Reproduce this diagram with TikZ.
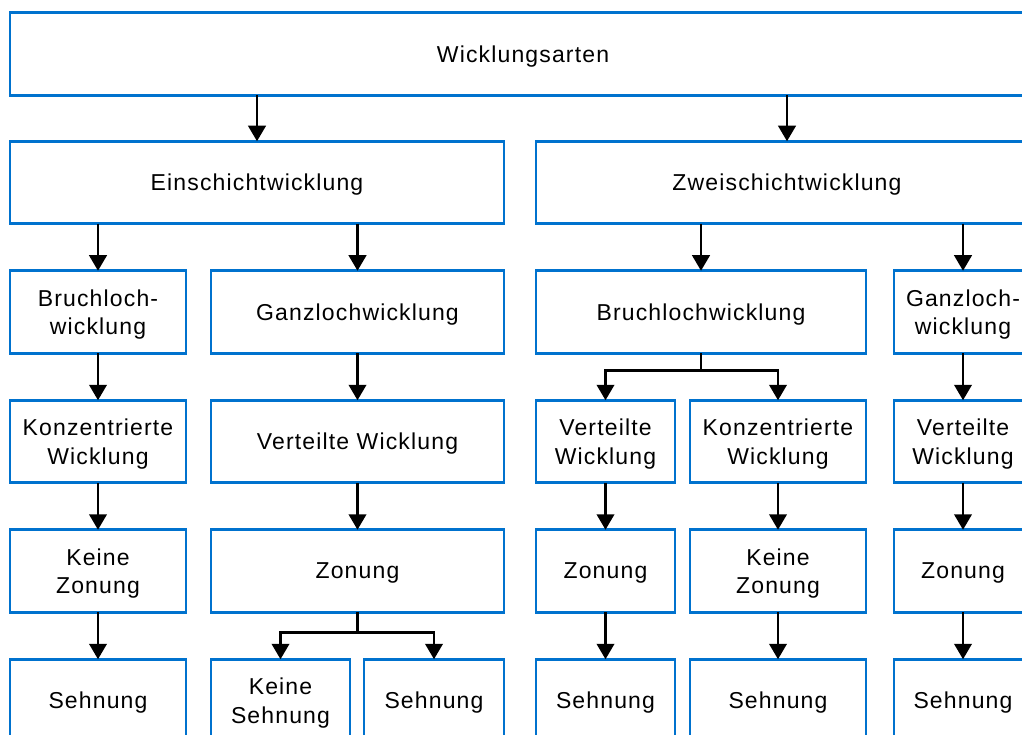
\documentclass[tikz,border=0pt]{standalone}
\usepackage{fontspec}
\setmainfont{Liberation Sans}[LetterSpace=5]
\usetikzlibrary{arrows.meta}
\definecolor{boxblue}{RGB}{0,114,206}
\tikzset{
  box/.style={draw=boxblue, line width=2.8pt, fill=white, rectangle,
    minimum height=82.5pt, inner sep=0pt, outer sep=0pt, align=center,
    text depth=0pt, font=\fontsize{23}{28.5}\selectfont},
  arr/.style={line width=2.5pt, -{Triangle[width=17.5pt,length=15.5pt]}},
  link/.style={line width=2.5pt}
}
\begin{document}
\begin{tikzpicture}[x=1pt,y=-1pt]
\useasboundingbox (0,0) rectangle (1022,735);
\clip (0,0) rectangle (1022,735);
% level 1
\node[box, minimum width=1026pt] (top) at (523,54) {Wicklungsarten};
% level 2
\node[box, minimum width=494pt] (ein) at (257,182.5) {Einschichtwicklung};
\node[box, minimum width=502pt] (zwei) at (787,182.5) {Zweischichtwicklung};
% level 3
\node[box, minimum width=176pt] (a3) at (98,312) {Bruchloch-\\wicklung};
\node[box, minimum width=293pt] (b3) at (357.5,312) {Ganzlochwicklung};
\node[box, minimum width=330pt] (c3) at (701,312) {Bruchlochwicklung};
\node[box, minimum width=138pt] (d3) at (963,312) {Ganzloch-\\wicklung};
% level 4
\node[box, minimum width=176pt] (a4) at (98,441.5) {Konzentrierte\\Wicklung};
\node[box, minimum width=293pt] (b4) at (357.5,441.5) {Verteilte Wicklung};
\node[box, minimum width=139pt] (c4) at (605.5,441.5) {Verteilte\\Wicklung};
\node[box, minimum width=176pt] (e4) at (778,441.5) {Konzentrierte\\Wicklung};
\node[box, minimum width=138pt] (d4) at (963,441.5) {Verteilte\\Wicklung};
% level 5
\node[box, minimum width=176pt] (a5) at (98,571) {Keine\\Zonung};
\node[box, minimum width=293pt] (b5) at (357.5,571) {Zonung};
\node[box, minimum width=139pt] (c5) at (605.5,571) {Zonung};
\node[box, minimum width=176pt] (e5) at (778,571) {Keine\\Zonung};
\node[box, minimum width=138pt] (d5) at (963,571) {Zonung};
% level 6
\node[box, minimum width=176pt] (a6) at (98,700.5) {Sehnung};
\node[box, minimum width=139pt] (b6) at (280.5,700.5) {Keine\\Sehnung};
\node[box, minimum width=140pt] (f6) at (434,700.5) {Sehnung};
\node[box, minimum width=139pt] (c6) at (605.5,700.5) {Sehnung};
\node[box, minimum width=176pt] (e6) at (778,700.5) {Sehnung};
\node[box, minimum width=138pt] (d6) at (963,700.5) {Sehnung};
% connectors
\draw[arr] (top.south -| ein.center) -- (ein.north);
\draw[arr] (top.south -| zwei.center) -- (zwei.north);
\draw[arr] (ein.south -| a3.center) -- (a3.north);
\draw[arr] (ein.south -| b3.center) -- (b3.north);
\draw[arr] (zwei.south -| c3.center) -- (c3.north);
\draw[arr] (zwei.south -| d3.center) -- (d3.north);
\draw[arr] (a3) -- (a4);
\draw[arr] (b3) -- (b4);
\draw[arr] (d3) -- (d4);
\draw[arr] (a4) -- (a5);
\draw[arr] (b4) -- (b5);
\draw[arr] (c4) -- (c5);
\draw[arr] (e4) -- (e5);
\draw[arr] (d4) -- (d5);
\draw[arr] (a5) -- (a6);
\draw[arr] (c5) -- (c6);
\draw[arr] (e5) -- (e6);
\draw[arr] (d5) -- (d6);
% forks
\draw[link] (c3.south) -- ++(0,17) coordinate (cfork);
\draw[arr] (cfork) -| (c4.north);
\draw[arr] (cfork) -| (e4.north);
\draw[link] (b5.south) -- ++(0,20) coordinate (bfork);
\draw[arr] (bfork) -| (b6.north);
\draw[arr] (bfork) -| (f6.north);
\end{tikzpicture}
\end{document}
